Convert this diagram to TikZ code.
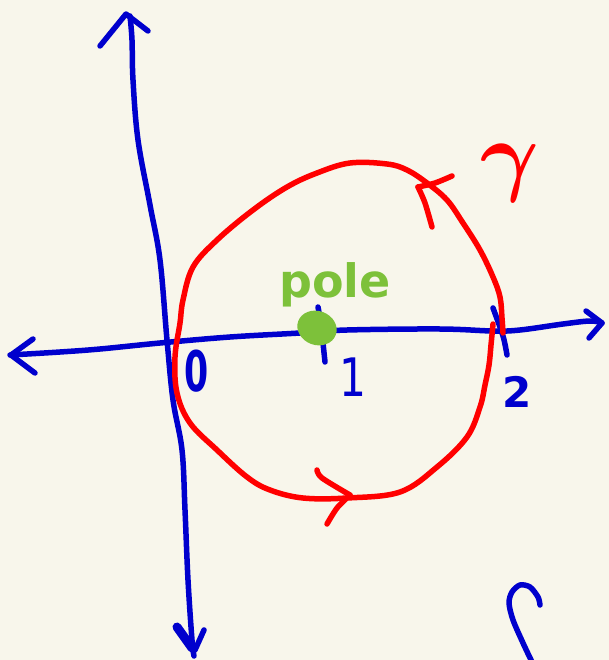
\documentclass[tikz,border=0pt]{standalone}
\usepackage{fontspec}
\setmainfont{DejaVu Sans}
\definecolor{penblue}{RGB}{0,0,205}
\definecolor{penred}{RGB}{255,0,0}
\definecolor{pengreen}{RGB}{125,193,58}
\definecolor{paper}{RGB}{248,246,235}
\begin{document}
\begin{tikzpicture}[x=1pt,y=-1pt, line cap=round, line join=round,
  ink/.style={line width=5.5pt},
  blueink/.style={ink, draw=penblue},
  redink/.style={ink, draw=penred},
  lbl/.style={inner sep=0pt, anchor=center}]
\fill[paper] (0,0) rectangle (609,660);
\useasboundingbox (0,0) rectangle (609,660);
% vertical axis
\draw[blueink] plot[smooth, tension=0.6] coordinates {(130,16) (132,40) (133,80) (138,140) (150,205) (160,260) (167,340) (173,400) (182,450) (185,510) (188,580) (192,640) (194,656)};
\draw[blueink] (100,46) -- (126,14) -- (148,31);
\draw[blueink, line width=9pt] (177,627) -- (192,648);
\draw[blueink] (204,630) -- (195,650);
% horizontal axis
\draw[blueink] plot[smooth, tension=0.6] coordinates {(10,355) (60,352) (100,349) (160,343) (230,337) (300,333) (347,330) (440,329) (493,331) (520,330) (563,324) (590,321) (602,323)};
\draw[blueink] (33,339) -- (11,355) -- (35,373);
\draw[blueink] (586,311) -- (602,323) -- (589,338);
% ticks
\draw[blueink] (318,307) -- (320,318);
\draw[blueink] (323,343) -- (325,362);
\draw[blueink] plot[smooth] coordinates {(493,308) (503,336) (507,355)};
% contour gamma
\draw[redink] plot[smooth, tension=0.6] coordinates {(493,324) (491,345) (489,365) (485,385) (480,407) (467,437) (437,467) (400,492) (347,498) (303,498) (270,490) (247,477) (217,450) (190,423) (177,393) (175,357) (180,323) (183,300) (193,267) (217,240) (253,210) (287,187) (317,173) (350,163) (387,164) (407,170) (427,183) (447,200) (463,223) (480,250) (493,277) (500,297) (502,318) (503,333)};
\draw[redink] plot[smooth] coordinates {(452,176) (435,183) (418,187)};
\draw[redink] plot[smooth] coordinates {(418,187) (425,203) (432,227)};
\draw[redink] plot[smooth] coordinates {(317,470) (322,478) (350,495)};
\draw[redink] plot[smooth] coordinates {(350,495) (337,508) (327,524)};
% pole
\fill[pengreen, rotate around={-20:(317,328)}] (317,328) ellipse (20 and 17);
\node[lbl, anchor=base west, text=pengreen, font=\fontsize{46}{46}\selectfont\bfseries] (pole) at (279,297) {pole};
\node[lbl, text=penred] (gamma) at (510,173) {\scalebox{9}{\boldmath$\gamma$}};
% labels
\node[lbl, text=penblue, font=\fontsize{56}{56}\selectfont\bfseries] (zero) at (197,371) {\scalebox{0.62}[1]{0}};
\node[lbl, text=penblue, font=\fontsize{53}{53}\selectfont] (one) at (353,377) {\scalebox{0.8}[1]{1}};
\node[lbl, text=penblue, font=\fontsize{42}{42}\selectfont\bfseries] (two) at (517,392) {2};
% partial letter at bottom right
\draw[blueink] plot[smooth] coordinates {(540,605) (538,597) (530,587) (520,585) (512,592) (509,603) (513,620) (523,643) (532,662)};
\end{tikzpicture}
\end{document}
